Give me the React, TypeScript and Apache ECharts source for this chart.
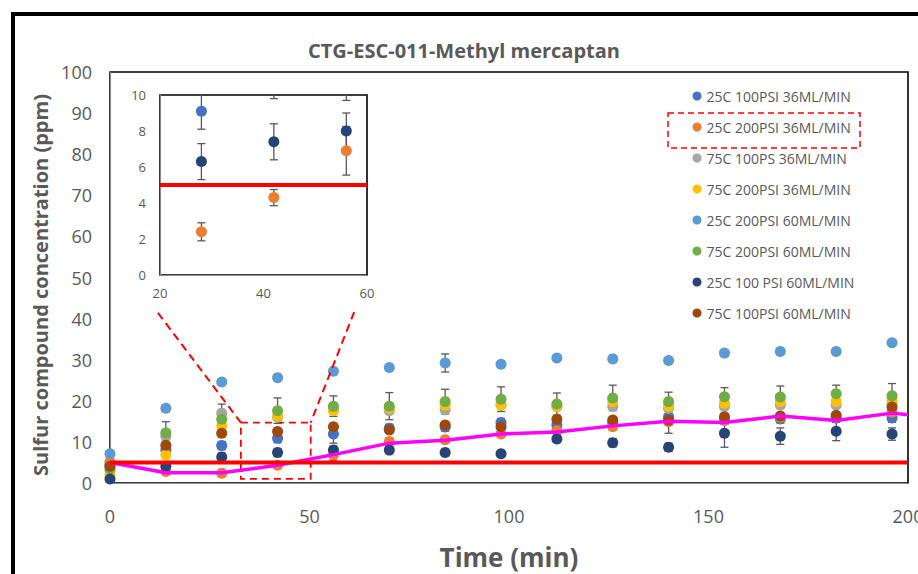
import React, { useEffect, useRef } from "react";
import * as echarts from "echarts";

// ---------- data ----------
const times = [0, 14, 28, 42, 56, 70, 84, 98, 112, 126, 140, 154, 168, 182, 196];

const s25c100psi36 = [4.5, 8.0, 9.1, 10.9, 11.9, 13.3, 13.6, 14.7, 14.1, 14.6, 16.1, 15.3, 15.6, 15.8, 15.8];
const s25c200psi36 = [5.2, 2.8, 2.4, 4.3, 6.9, 10.1, 10.5, 11.9, 12.7, 13.7, 14.9, 15.2, 16.0, 16.0, 17.2];
const s75c100ps36 = [3.0, 11.4, 17.0, 16.0, 17.8, 17.6, 17.8, 19.0, 18.6, 18.6, 18.2, 18.6, 19.0, 19.0, 19.5];
const s75c200psi36 = [2.0, 6.8, 13.9, 16.3, 17.6, 18.2, 18.9, 19.0, 18.6, 19.8, 18.7, 19.4, 19.8, 19.8, 20.2];
const s25c200psi60 = [7.1, 18.2, 24.6, 25.6, 27.2, 28.1, 29.2, 28.9, 30.4, 30.2, 29.8, 31.6, 32.0, 32.0, 34.1];
const s75c200psi60 = [3.5, 12.2, 15.5, 17.6, 18.7, 18.7, 19.8, 20.4, 19.2, 20.7, 19.8, 21.0, 20.9, 21.7, 21.2];
const s25c100psi60 = [1.0, 4.1, 6.3, 7.4, 8.0, 8.0, 7.4, 7.1, 10.7, 9.8, 8.7, 12.1, 11.4, 12.6, 11.9];
const s75c100psi60 = [4.1, 9.2, 12.1, 12.5, 13.7, 12.9, 14.1, 13.7, 15.5, 15.3, 15.3, 16.1, 16.3, 16.5, 18.5];

// error half-widths (ppm)
const err25c100psi36 = [0.5, 1.0, 1.0, 1.1, 2.2, 1.0, 1.0, 1.0, 1.0, 1.0, 4.0, 1.0, 1.0, 1.0, 1.0];
const err25c200psi36 = [0.3, 0.5, 0.5, 0.45, 1.35, 0.8, 0.8, 0.8, 0.8, 0.8, 0.8, 0.8, 0.8, 0.8, 0.8];
const err25c100psi60 = [0.3, 0.5, 1.0, 1.0, 1.0, 0.8, 0.8, 0.8, 0.8, 1.0, 1.0, 3.4, 2.0, 2.3, 1.5];
const err75c200psi60 = [0.5, 2.7, 3.7, 3.1, 2.5, 3.3, 3.0, 3.0, 2.7, 3.1, 2.3, 2.2, 2.7, 2.1, 3.0];
const err25c200psi60 = [0.3, 0.8, 0.5, 0.5, 0.4, 0.4, 2.2, 0.5, 0.5, 0.5, 0.4, 0.8, 0.5, 0.5, 0.5];

// magenta trend line
const trendTimes = [0, 14, 28, 42, 56, 70, 84, 98, 112, 126, 140, 154, 168, 182, 196, 200];
const trendValues = [5.0, 2.5, 2.5, 4.3, 6.9, 9.7, 10.4, 11.9, 12.4, 13.9, 15.0, 14.7, 16.3, 15.2, 17.0, 16.6];

// limit line
const limitValue = 5;

// zoom annotation (data coords on main chart)
const zoomBoxX = [32.8, 50.3];
const zoomBoxY = [1.0, 14.7];
const connectorStart = [[12.0, 41.4], [61.2, 41.6]];

const seriesNames = [
  "25C 100PSI 36ML/MIN",
  "25C 200PSI 36ML/MIN",
  "75C 100PS 36ML/MIN",
  "75C 200PSI 36ML/MIN",
  "25C 200PSI 60ML/MIN",
  "75C 200PSI 60ML/MIN",
  "25C 100 PSI 60ML/MIN",
  "75C 100PSI 60ML/MIN",
];
const seriesValues = [
  s25c100psi36, s25c200psi36, s75c100ps36, s75c200psi36,
  s25c200psi60, s75c200psi60, s25c100psi60, s75c100psi60,
];
const seriesColors = ["#4472C4", "#ED7D31", "#A5A5A5", "#FFC000", "#5B9BD5", "#70AD47", "#264478", "#9E480E"];

// which series carry error bars: [series index, errors]
const errorSets: [number, number[]][] = [
  [0, err25c100psi36],
  [1, err25c200psi36],
  [6, err25c100psi60],
  [5, err75c200psi60],
  [4, err25c200psi60],
];
// series shown in the inset
const insetSeries = [0, 1, 6];
const insetX = [20, 60];
const insetY = [0, 10];

const FONT = '"Open Sans", sans-serif';
const TXT = "#595959";

function makeErrorRender(ymin: number, ymax: number, cap: number) {
  return (params: any, api: any) => {
    const x = api.value(0);
    const lo = api.value(1);
    const hi = api.value(2);
    const loC = Math.max(lo, ymin);
    const hiC = Math.min(hi, ymax);
    const children: any[] = [];
    if (hiC > loC) {
      const pLo = api.coord([x, loC]);
      const pHi = api.coord([x, hiC]);
      const style = { stroke: "#595959", lineWidth: 1.3 };
      children.push({ type: "line", shape: { x1: pLo[0], y1: pLo[1], x2: pHi[0], y2: pHi[1] }, style });
      if (hi <= ymax) children.push({ type: "line", shape: { x1: pHi[0] - cap, y1: pHi[1], x2: pHi[0] + cap, y2: pHi[1] }, style });
      if (lo >= ymin) children.push({ type: "line", shape: { x1: pLo[0] - cap, y1: pLo[1], x2: pLo[0] + cap, y2: pLo[1] }, style });
    }
    return { type: "group", children };
  };
}

export default function App() {
  const ref = useRef<HTMLDivElement>(null);
  useEffect(() => {
    if (!ref.current) return;
    const chart = echarts.init(ref.current, undefined, { renderer: "svg" });

    const series: any[] = [];

    // main error bars
    errorSets.forEach(([si, errs]) => {
      series.push({
        type: "custom",
        xAxisIndex: 0,
        yAxisIndex: 0,
        z: 1,
        silent: true,
        renderItem: makeErrorRender(0, 100, 4),
        encode: { x: 0, y: [1, 2] },
        data: times.map((t, i) => [t, seriesValues[si][i] - errs[i], seriesValues[si][i] + errs[i]]),
      });
    });

    // main scatter
    seriesNames.forEach((name, si) => {
      series.push({
        name,
        type: "scatter",
        xAxisIndex: 0,
        yAxisIndex: 0,
        z: 2,
        symbol: "circle",
        symbolSize: 11,
        itemStyle: { color: seriesColors[si], opacity: 1 },
        data: times.map((t, i) => [t, seriesValues[si][i]]),
      });
    });

    // magenta trend
    series.push({
      type: "line",
      xAxisIndex: 0,
      yAxisIndex: 0,
      z: 3,
      silent: true,
      symbol: "none",
      lineStyle: { color: "#FF00FF", width: 3.5 },
      data: trendTimes.map((t, i) => [t, trendValues[i]]),
    });

    // red limit line + zoom annotations
    series.push({
      type: "line",
      xAxisIndex: 0,
      yAxisIndex: 0,
      z: 4,
      silent: true,
      symbol: "none",
      lineStyle: { color: "#FF0000", width: 4 },
      data: [[0, limitValue], [200, limitValue]],
      markArea: {
        silent: true,
        itemStyle: { color: "rgba(0,0,0,0)", borderColor: "#FF0000", borderWidth: 1.8, borderType: [7, 5] },
        data: [[{ coord: [zoomBoxX[0], zoomBoxY[1]] }, { coord: [zoomBoxX[1], zoomBoxY[0]] }]],
      },
      markLine: {
        silent: true,
        symbol: ["none", "none"],
        label: { show: false },
        lineStyle: { color: "#FF0000", width: 2, type: [8, 5] },
        data: [
          [{ coord: connectorStart[0] }, { coord: [zoomBoxX[0], zoomBoxY[1]] }],
          [{ coord: connectorStart[1] }, { coord: [zoomBoxX[1], zoomBoxY[1]] }],
        ],
      },
    });

    // inset error bars
    const inIdx = times.map((t, i) => i).filter((i) => times[i] >= insetX[0] && times[i] <= insetX[1]);
    errorSets.forEach(([si, errs]) => {
      if (!insetSeries.includes(si)) return;
      series.push({
        type: "custom",
        xAxisIndex: 1,
        yAxisIndex: 1,
        z: 11,
        silent: true,
        renderItem: makeErrorRender(insetY[0], insetY[1], 4),
        encode: { x: 0, y: [1, 2] },
        data: inIdx.map((i) => [times[i], seriesValues[si][i] - errs[i], seriesValues[si][i] + errs[i]]),
      });
    });
    insetSeries.forEach((si) => {
      series.push({
        name: seriesNames[si],
        type: "scatter",
        xAxisIndex: 1,
        yAxisIndex: 1,
        z: 12,
        symbol: "circle",
        symbolSize: 11,
        itemStyle: { color: seriesColors[si], opacity: 1 },
        data: inIdx
          .filter((i) => seriesValues[si][i] <= insetY[1])
          .map((i) => [times[i], seriesValues[si][i]]),
      });
    });
    series.push({
      type: "line",
      xAxisIndex: 1,
      yAxisIndex: 1,
      z: 13,
      silent: true,
      symbol: "none",
      lineStyle: { color: "#FF0000", width: 4 },
      data: [[insetX[0], limitValue], [insetX[1], limitValue]],
    });

    const axisLabel = (size: number, margin: number) => ({
      fontSize: size,
      color: TXT,
      fontFamily: FONT,
      margin,
    });

    chart.setOption({
      animation: false,
      backgroundColor: "#fff",
      title: {
        text: "CTG-ESC-011-Methyl mercaptan",
        left: 464,
        top: 40,
        padding: 0,
        textAlign: "center",
        textStyle: { fontSize: 20, fontWeight: "bold", color: TXT, fontFamily: FONT },
      },
      legend: {
        orient: "vertical",
        left: 692.5,
        top: 88,
        padding: 0,
        itemWidth: 9,
        itemHeight: 9,
        itemGap: 15,
        icon: "circle",
        data: seriesNames,
        textStyle: { fontSize: 14, color: TXT, fontFamily: FONT, lineHeight: 16 },
      },
      grid: [
        {
          left: 110, top: 72, right: 10, bottom: 91, show: true,
          borderColor: "#000", borderWidth: 1.6, backgroundColor: "#fff",
          outerBoundsMode: "none",
        },
        {
          left: 160, top: 95, right: 551, bottom: 299, show: true,
          borderColor: "#000", borderWidth: 1.6, backgroundColor: "#fff", z: 10,
          outerBoundsMode: "none",
        },
      ],
      xAxis: [
        {
          type: "value",
          gridIndex: 0,
          min: 0,
          max: 200,
          interval: 50,
          splitLine: { show: false },
          axisTick: { show: false },
          axisLine: { lineStyle: { color: "#8c8c8c", width: 1.2 } },
          axisLabel: axisLabel(18, 24),
          name: "Time (min)",
          nameLocation: "middle",
          nameGap: 61,
          nameTextStyle: { fontSize: 26, fontWeight: "bold", color: TXT, fontFamily: FONT },
        },
        {
          type: "value",
          gridIndex: 1,
          min: insetX[0],
          max: insetX[1],
          interval: 20,
          z: 10,
          splitLine: { show: false },
          axisTick: { show: false },
          axisLine: { lineStyle: { color: "#8c8c8c", width: 1.2 } },
          axisLabel: axisLabel(13, 11),
        },
      ],
      yAxis: [
        {
          type: "value",
          gridIndex: 0,
          min: 0,
          max: 100,
          interval: 10,
          splitLine: { show: false },
          axisTick: { show: false },
          axisLine: { show: true, lineStyle: { color: "#8c8c8c", width: 1.2 } },
          axisLabel: axisLabel(18, 18),
        },
        {
          type: "value",
          gridIndex: 1,
          min: insetY[0],
          max: insetY[1],
          interval: 2,
          z: 10,
          splitLine: { show: false },
          axisTick: { show: false },
          axisLine: { show: true, lineStyle: { color: "#8c8c8c", width: 1.2 } },
          axisLabel: axisLabel(13, 14),
        },
      ],
      graphic: [
        {
          type: "polyline",
          z: 100,
          silent: true,
          shape: { points: [[13, 574], [13, 14], [918, 14]] },
          style: { stroke: "#000", lineWidth: 4, fill: "none" },
        },
        {
          type: "text",
          x: 40,
          y: 285,
          rotation: Math.PI / 2,
          silent: true,
          style: {
            text: "Sulfur compound concentration (ppm)",
            font: `bold 20px ${FONT}`,
            fill: TXT,
            align: "center",
            verticalAlign: "middle",
          },
        },
        {
          type: "rect",
          silent: true,
          z: 100,
          shape: { x: 668, y: 113, width: 192, height: 35 },
          style: { fill: "none", stroke: "#FF0000", lineWidth: 1.5, lineDash: [6, 4] },
        },
      ],
      series,
    });

    return () => chart.dispose();
  }, []);

  return (
    <div
      ref={ref}
      style={{ position: "fixed", left: 0, top: 0, width: 918, height: 574, background: "#fff" }}
    />
  );
}
